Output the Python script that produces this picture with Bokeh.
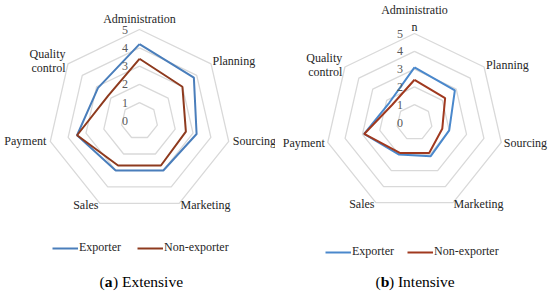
import math
from bokeh.plotting import figure
from bokeh.layouts import row
from bokeh.models import Range1d, Legend, LegendItem, Label
from bokeh.embed import file_html
from bokeh.resources import INLINE

categories = ["Administration", "Planning", "Sourcing", "Marketing", "Sales", "Payment", "Quality control"]
levels = [0, 1, 2, 3, 4, 5]

extensive_exporter = [4.2, 3.8, 3.2, 3.0, 3.0, 3.5, 2.9]
extensive_non_exporter = [3.4, 3.0, 2.6, 2.7, 2.7, 3.5, 2.2]
intensive_exporter = [3.1, 2.9, 2.0, 2.1, 2.0, 2.9, 1.8]
intensive_non_exporter = [2.4, 2.2, 1.6, 1.9, 1.9, 2.9, 1.6]

series_names = ["Exporter", "Non-exporter"]

FONT_NAME = "Liberation Serif"
N = len(categories)
angles = [math.pi / 2 - 2 * math.pi * k / N for k in range(N)]


def polar(vals):
    xs = [v * math.cos(a) for v, a in zip(vals, angles)]
    ys = [v * math.sin(a) for v, a in zip(vals, angles)]
    return xs + xs[:1], ys + ys[:1]


def add_text(p, x, y, txt, size, color, align="center", xo=0, yo=0, style="normal",
             units="data"):
    p.add_layout(Label(x=x, y=y, x_units=units, y_units=units, text=txt,
                       x_offset=xo, y_offset=-yo, text_align=align,
                       text_baseline="middle", text_font=FONT_NAME,
                       text_font_size=size, text_font_style=style, text_color=color))


def make_radar(exp_vals, non_vals, unit, cx, cy, colors, admin_lines, label_offsets,
               legend_loc, legend_spacing, caption_x, caption_letter, caption_rest):
    W, H = 275, 297
    p = figure(width=W, height=H, output_backend="svg", toolbar_location=None,
               x_range=Range1d(-cx / unit, (W - cx) / unit),
               y_range=Range1d(-(H - cy) / unit, cy / unit),
               x_axis_location=None, y_axis_location=None, min_border=0,
               outline_line_color=None, background_fill_color="white",
               border_fill_color="white")
    p.grid.visible = False

    # grid rings
    for lev in levels[1:]:
        xs, ys = polar([lev] * N)
        p.line(xs, ys, line_color="#D9D9D9", line_width=1.3)

    # level labels
    for lev in levels:
        add_text(p, 0, lev, str(lev), "12px", "#595959", xo=-14.5)

    # series
    xe, ye = polar(exp_vals)
    xn, yn = polar(non_vals)
    r_exp = p.line(xe, ye, line_color=colors[0], line_width=2)
    r_non = p.line(xn, yn, line_color=colors[1], line_width=2)

    # category labels
    for k, cat in enumerate(categories):
        vx = 5 * math.cos(angles[k])
        vy = 5 * math.sin(angles[k])
        xo, yo, align = label_offsets[k]
        if k == 0:
            lines = admin_lines
        elif cat == "Quality control":
            lines = [("Quality", yo - 7), ("control", yo + 7)]
        else:
            lines = [(cat, yo)]
        for txt, ly in lines:
            add_text(p, vx, vy, txt, "12px", "#262626", align=align, xo=xo, yo=ly)

    legend = Legend(items=[LegendItem(label=series_names[0], renderers=[r_exp]),
                           LegendItem(label=series_names[1], renderers=[r_non])],
                    orientation="horizontal", location=legend_loc, padding=0, margin=0,
                    border_line_color=None, background_fill_alpha=0,
                    glyph_width=26, glyph_height=14, label_height=14,
                    label_standoff=1, spacing=legend_spacing,
                    label_text_font=FONT_NAME, label_text_font_size="12px",
                    label_text_color="#262626")
    p.add_layout(legend)

    cap_size = 15.5
    cy_cap = 297 - 280.7
    add_text(p, caption_x, cy_cap, "(", f"{cap_size}px", "#000000", align="left", units="screen")
    bx = caption_x + 0.333 * cap_size
    add_text(p, bx, cy_cap, caption_letter, f"{cap_size}px", "#000000", align="left",
             style="bold", units="screen")
    rx = bx + 0.53 * cap_size
    add_text(p, rx, cy_cap, caption_rest, f"{cap_size}px", "#000000", align="left", units="screen")
    return p


left_offsets = [(0, -10.7, "center"), (1.5, -2.5, "left"), (4, 0, "left"), (1.3, 2, "left"),
                (-1.3, 2, "right"), (-4, 0, "right"), (-2.5, -3, "right")]
right_offsets = [(0, -8, "center"), (2, -2, "left"), (2.5, 1, "left"), (0.5, 1, "left"),
                 (-1.4, 1, "right"), (-3, 1, "right"), (-2.7, -2, "right")]

p1 = make_radar(extensive_exporter, extensive_non_exporter, 18.3, 139, 120.5,
                ["#4A7EBB", "#8E3A1E"], [("Administration", -10.7)], left_offsets,
                (52, 297 - 248.3 - 7), 16, 99, "a", ") Extensive")
p2 = make_radar(intensive_exporter, intensive_non_exporter, 17.8, 139, 122,
                ["#4A88CC", "#A0391F"], [("Administratio", -23.7), ("n", -7)], right_offsets,
                (50, 297 - 252 - 7), 13, 100, "b", ") Intensive")

layout = row(p1, p2)
open("out.html", "w").write(file_html(layout, INLINE))
